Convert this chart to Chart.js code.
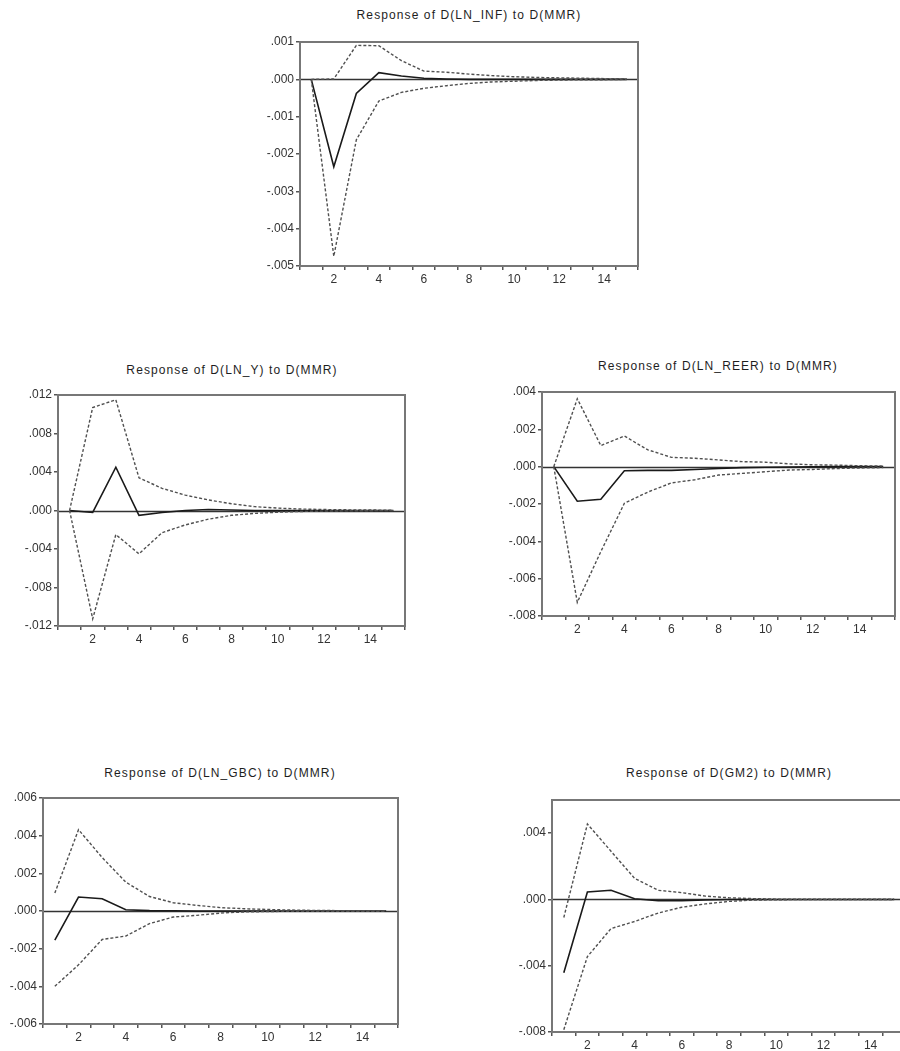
<!DOCTYPE html>
<html><head><meta charset="utf-8">
<script src="https://cdn.jsdelivr.net/npm/chart.js@4.4.1/dist/chart.umd.min.js"></script>
<style>
html,body{margin:0;padding:0;background:#fff;overflow:hidden;width:900px;height:1051px;}
.panel{position:absolute;}
.title{position:absolute;font-family:"Liberation Sans",Arial,sans-serif;font-size:12px;letter-spacing:1.1px;color:#1e1e1e;white-space:nowrap;transform:translateX(-50%);line-height:14px;}
</style></head><body>
<script>
// ---- data ----
const horizons = ['1','2','3','4','5','6','7','8','9','10','11','12','13','14','15'];

const titles = [
  'Response of D(LN_INF) to D(MMR)',
  'Response of D(LN_Y) to D(MMR)',
  'Response of D(LN_REER) to D(MMR)',
  'Response of D(LN_GBC) to D(MMR)',
  'Response of D(GM2) to D(MMR)'
];

// D(LN_INF)
const infResp  = [0, -0.00234, -0.00038, 0.00018, 0.00009, 0.00003, 0.00001, 0, 0, 0, 0, 0, 0, 0, 0];
const infUpper = [0, 0.00001, 0.00091, 0.00090, 0.00050, 0.00022, 0.00019, 0.00014, 0.00010, 0.00007, 0.00005, 0.00004, 0.00003, 0.00002, 0.00001];
const infLower = [0, -0.00474, -0.00162, -0.00058, -0.00035, -0.00024, -0.00017, -0.00011, -0.00007, -0.00005, -0.00003, -0.00002, -0.00001, -0.00001, 0];
const infTicks = [-0.005, -0.004, -0.003, -0.002, -0.001, 0, 0.001];

// D(LN_Y)
const yResp  = [0, -0.0002, 0.0045, -0.0005, -0.0002, 0, 0.0001, 0.00005, 0, 0, 0, 0, 0, 0, 0];
const yUpper = [0, 0.0107, 0.0115, 0.0034, 0.0023, 0.0016, 0.0011, 0.0007, 0.0004, 0.00025, 0.00015, 0.0001, 0.00007, 0.00005, 0.00003];
const yLower = [0, -0.01126, -0.0025, -0.0045, -0.0023, -0.0015, -0.0009, -0.0005, -0.0003, -0.00018, -0.0001, -0.00006, -0.00004, -0.00002, -0.00001];
const yTicks = [-0.012, -0.008, -0.004, 0, 0.004, 0.008, 0.012];

// D(LN_REER)
const reerResp  = [0, -0.00185, -0.00175, -0.00022, -0.0002, -0.0002, -0.00015, -0.0001, -0.00005, -0.00003, -0.00002, -0.00001, 0, 0, 0];
const reerUpper = [0, 0.00364, 0.00113, 0.00164, 0.0009, 0.0005, 0.00045, 0.00036, 0.00027, 0.00024, 0.00015, 0.0001, 0.00008, 0.00005, 0.00003];
const reerLower = [0, -0.00727, -0.00455, -0.00196, -0.00136, -0.00087, -0.0007, -0.00045, -0.00036, -0.00027, -0.00018, -0.00015, -0.0001, -0.00007, -0.00005];
const reerTicks = [-0.008, -0.006, -0.004, -0.002, 0, 0.002, 0.004];

// D(LN_GBC)
const gbcResp  = [-0.00155, 0.00074, 0.00065, 0.00007, 0.00002, 0.00001, 0, 0, 0, 0, 0, 0, 0, 0, 0];
const gbcUpper = [0.00095, 0.00432, 0.00284, 0.00153, 0.00077, 0.00044, 0.0003, 0.00018, 0.00012, 0.00008, 0.00005, 0.00003, 0.00002, 0.00001, 0.00001];
const gbcLower = [-0.004, -0.00286, -0.00151, -0.00133, -0.00067, -0.00032, -0.00023, -0.00011, -0.00005, -0.00003, -0.00001, -0.00001, -0.00001, -0.00001, -0.00001];
const gbcTicks = [-0.006, -0.004, -0.002, 0, 0.002, 0.004, 0.006];

// D(GM2)
const gm2Resp  = [-0.00443, 0.00045, 0.00055, 0.00004, -0.00008, -0.00008, -0.00003, 0, 0, 0, 0, 0, 0, 0, 0];
const gm2Upper = [-0.00109, 0.00455, 0.00291, 0.00127, 0.00055, 0.00041, 0.0002, 0.0001, 0.00005, 0.00002, 0.00002, 0.00002, 0.00002, 0.00002, 0.00002];
const gm2Lower = [-0.00786, -0.00345, -0.00176, -0.00133, -0.00082, -0.00047, -0.00027, -0.00012, -0.00004, -0.00002, -0.00001, -0.00001, -0.00001, -0.00001, -0.00001];
const gm2Ticks = [-0.008, -0.004, 0, 0.004];

// ---- layout (plot box: left, right, top, bottom) ----
const panels = [
  {title: titles[0], resp: infResp,  upper: infUpper,  lower: infLower,  ticks: infTicks,  min: -0.005, max: 0.001, box: [300, 638, 42, 266],  tc: [469, 15]},
  {title: titles[1], resp: yResp,    upper: yUpper,    lower: yLower,    ticks: yTicks,    min: -0.012, max: 0.012, box: [58, 405, 395, 626],  tc: [232, 370]},
  {title: titles[2], resp: reerResp, upper: reerUpper, lower: reerLower, ticks: reerTicks, min: -0.008, max: 0.004, box: [542, 895, 392, 616], tc: [718, 366]},
  {title: titles[3], resp: gbcResp,  upper: gbcUpper,  lower: gbcLower,  ticks: gbcTicks,  min: -0.006, max: 0.006, box: [43, 398, 798, 1024], tc: [220, 773]},
  {title: titles[4], resp: gm2Resp,  upper: gm2Upper,  lower: gm2Lower,  ticks: gm2Ticks,  min: -0.008, max: 0.006, box: [552, 906, 800, 1032], tc: [729, 773]}
];

const FONT = '"Liberation Sans", Arial, sans-serif';
function fmt(v){
  const s = Math.abs(v) < 1e-12 ? '0.000' : v.toFixed(3);
  return s.replace('0.', '.');
}

const framePlugin = {
  id: 'frame',
  beforeDatasetsDraw(chart){
    const {ctx, chartArea:a, scales:{y}} = chart;
    const zy = Math.round(y.getPixelForValue(0)) + 0.5;
    ctx.save();
    ctx.strokeStyle = '#333';
    ctx.lineWidth = 1.6;
    ctx.beginPath(); ctx.moveTo(a.left, zy); ctx.lineTo(a.right, zy); ctx.stroke();
    ctx.restore();
  },
  afterDraw(chart){
    const {ctx, chartArea:a} = chart;
    ctx.save();
    ctx.strokeStyle = '#777';
    ctx.lineWidth = 2;
    ctx.strokeRect(a.left, a.top, a.right - a.left, a.bottom - a.top);
    ctx.restore();
  }
};

const YW = 46, XH = 26, PT = 10, PR = 8;

panels.forEach(p => {
  const [L, R, T, B] = p.box;
  const w = R - L + YW + PR, h = B - T + PT + XH;
  const div = document.createElement('div');
  div.className = 'panel';
  div.style.left = (L - YW) + 'px';
  div.style.top = (T - PT) + 'px';
  div.style.width = w + 'px';
  div.style.height = h + 'px';
  const cv = document.createElement('canvas');
  cv.width = w; cv.height = h;
  cv.style.width = w + 'px'; cv.style.height = h + 'px';
  div.appendChild(cv);
  document.body.appendChild(div);

  const t = document.createElement('div');
  t.className = 'title';
  t.textContent = p.title;
  t.style.left = p.tc[0] + 'px';
  t.style.top = (p.tc[1] - 7) + 'px';
  document.body.appendChild(t);

  const band = {borderColor: '#505050', borderWidth: 1.4, borderDash: [3, 2], pointRadius: 0, tension: 0, fill: false};
  new Chart(cv, {
    type: 'line',
    data: {
      labels: horizons,
      datasets: [
        Object.assign({label: 'upper', data: p.upper}, band),
        Object.assign({label: 'lower', data: p.lower}, band),
        {label: 'response', data: p.resp, borderColor: '#1a1a1a', borderWidth: 1.6, pointRadius: 0, tension: 0, fill: false}
      ]
    },
    options: {
      responsive: false,
      animation: false,
      devicePixelRatio: 1,
      layout: {padding: {top: PT, right: PR, left: 0, bottom: 0}},
      plugins: {legend: {display: false}, tooltip: {enabled: false}, title: {display: false}},
      scales: {
        x: {
          type: 'category',
          offset: true,
          grid: {offset: true, drawOnChartArea: false, drawTicks: true, tickLength: 4, color: '#555', lineWidth: 1.5},
          border: {display: false},
          ticks: {autoSkip: false, maxRotation: 0, minRotation: 0, padding: 2, color: '#333', font: {family: FONT, size: 12},
                  callback: (v, i) => ((i + 1) % 2 === 0 ? horizons[i] : '')},
          afterFit: s => { s.height = XH; }
        },
        y: {
          type: 'linear',
          min: p.min, max: p.max,
          afterBuildTicks: s => { s.ticks = p.ticks.map(v => ({value: v})); },
          grid: {drawOnChartArea: false, drawTicks: true, tickLength: 4, color: '#555', lineWidth: 1.5},
          border: {display: false},
          ticks: {padding: 2, color: '#333', font: {family: FONT, size: 12}, callback: v => fmt(v)},
          afterFit: s => { s.width = YW; }
        }
      }
    },
    plugins: [framePlugin]
  });
});
</script>
</body></html>
